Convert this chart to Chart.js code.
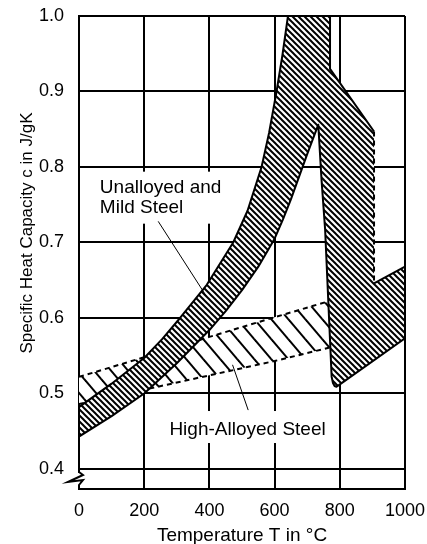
<!DOCTYPE html>
<html>
<head>
<meta charset="utf-8">
<script src="https://cdn.jsdelivr.net/npm/chart.js@4/dist/chart.umd.min.js"></script>
<style>
  html, body { margin: 0; padding: 0; background: #fff; }
  #c { display: block; }
</style>
</head>
<body>
<canvas id="c" width="427" height="544"></canvas>
<script>
// Axis ticks
const tempTicks = [0, 200, 400, 600, 800, 1000];          // temperature T in °C
const capTicks = [0.4, 0.5, 0.6, 0.7, 0.8, 0.9, 1.0];      // specific heat capacity c in J/gK

// Unalloyed and mild steel, upper edge of the scatter band
// (rises past 1.0, then the right-hand part after the peak, dashed drop at 905 °C)
const unalloyedUpperT = [0, 100, 200, 255, 310, 392, 473, 517, 560, 583, 606, 624, 641, 770, 770, 905, 905, 1000];
const unalloyedUpperC = [0.482, 0.513, 0.547, 0.572, 0.600, 0.644, 0.700, 0.742, 0.800, 0.845, 0.900, 0.948, 1.000, 1.000, 0.930, 0.847, 0.646, 0.668];

// Unalloyed and mild steel, lower edge (up to the peak, the sharp drop, then rising again)
const unalloyedLowerT = [0, 0, 100, 200, 300, 400, 450, 500, 550, 600, 625, 650, 700, 734, 744, 755, 775, 779, 784, 790, 797, 1000, 1000];
const unalloyedLowerC = [0.482, 0.443, 0.470, 0.500, 0.540, 0.584, 0.609, 0.637, 0.668, 0.705, 0.730, 0.757, 0.817, 0.856, 0.783, 0.717, 0.522, 0.514, 0.510, 0.509, 0.511, 0.573, 0.668];

// High-alloyed steel, upper and lower edges
const highAlloyUpperT = [0, 200, 400, 600, 780];
const highAlloyUpperC = [0.522, 0.548, 0.575, 0.601, 0.624];
const highAlloyLowerT = [0, 200, 400, 600, 780];
const highAlloyLowerC = [0.486, 0.505, 0.524, 0.543, 0.562];

const FONT = '"Liberation Sans", Arial, Helvetica, sans-serif';

// Diagonal hatching on a white ground, lines running top-left to bottom-right
function hatch(step, rise, width) {
  const tile = document.createElement('canvas');
  tile.width = step;
  tile.height = rise;
  const g = tile.getContext('2d');
  g.fillStyle = '#fff';
  g.fillRect(0, 0, step, rise);
  g.strokeStyle = '#000';
  g.lineWidth = width;
  g.lineCap = 'square';
  for (let k = -1; k <= 1; k++) {
    g.beginPath();
    g.moveTo(k * step, 0);
    g.lineTo(k * step + step, rise);
    g.stroke();
  }
  return g.createPattern(tile, 'repeat');
}

const ctx = document.getElementById('c').getContext('2d');
const denseHatch = hatch(6, 6, 2);
const sparseHatch = hatch(17, 20, 2);

const toPoints = (ts, cs, from = 0, to = ts.length) =>
  ts.slice(from, to).map((t, i) => ({ x: t, y: cs[from + i] }));

// index where the dashed drop at the right-hand end of the upper edge begins
const dropAt = unalloyedUpperT.indexOf(905);

// Labels, leader lines and the broken-axis mark, placed in data units
const steelNotes = {
  id: 'steelNotes',
  beforeDatasetsDraw(chart) {
    const { ctx, scales: { x, y }, chartArea } = chart;
    ctx.save();
    ctx.font = '19px ' + FONT;
    // white grounds behind the two labels
    ctx.fillStyle = '#fff';
    const ux = x.getPixelForValue(64), uy = y.getPixelForValue(0.766);
    const uw = Math.max(ctx.measureText('Unalloyed and').width, ctx.measureText('Mild Steel').width);
    ctx.fillRect(ux - 5, uy - 21, uw + 8, 52);
    const hw = ctx.measureText('High-Alloyed Steel').width;
    const hx = x.getPixelForValue(517) - hw / 2, hy = y.getPixelForValue(0.445);
    ctx.fillRect(hx - 5, hy - 24, hw + 10, 32);

    // break in the value axis
    const bx = chartArea.left;
    ctx.fillRect(bx - 3, chartArea.bottom - 16, 6, 12);
    ctx.strokeStyle = '#000';
    ctx.lineWidth = 2;
    ctx.lineJoin = 'miter';
    ctx.beginPath();
    ctx.moveTo(bx, chartArea.bottom - 17);
    ctx.lineTo(bx + 4, chartArea.bottom - 14);
    ctx.lineTo(bx - 11, chartArea.bottom - 7);
    ctx.lineTo(bx + 4, chartArea.bottom - 9);
    ctx.lineTo(bx, chartArea.bottom - 4);
    ctx.lineTo(bx, chartArea.bottom);
    ctx.stroke();
    ctx.restore();
  },
  afterDatasetsDraw(chart) {
    const { ctx, scales: { x, y } } = chart;
    ctx.save();
    ctx.fillStyle = '#000';
    ctx.strokeStyle = '#000';
    ctx.font = '19px ' + FONT;
    ctx.textBaseline = 'alphabetic';
    ctx.textAlign = 'left';
    const ux = x.getPixelForValue(64), uy = y.getPixelForValue(0.766);
    ctx.fillText('Unalloyed and', ux, uy);
    ctx.fillText('Mild Steel', ux, uy + 20.6);
    ctx.textAlign = 'center';
    ctx.fillText('High-Alloyed Steel', x.getPixelForValue(517), y.getPixelForValue(0.445));

    // leader lines
    ctx.lineWidth = 1;
    ctx.beginPath();
    ctx.moveTo(x.getPixelForValue(243), y.getPixelForValue(0.728));
    ctx.lineTo(x.getPixelForValue(392), y.getPixelForValue(0.628));
    ctx.moveTo(x.getPixelForValue(519), y.getPixelForValue(0.478));
    ctx.lineTo(x.getPixelForValue(471), y.getPixelForValue(0.538));
    ctx.stroke();

    // value-axis title
    ctx.font = '17px ' + FONT;
    ctx.textAlign = 'center';
    ctx.textBaseline = 'middle';
    ctx.translate(27, 233);
    ctx.rotate(-Math.PI / 2);
    ctx.fillText('Specific Heat Capacity c in J/gK', 0, 0);
    ctx.restore();
  }
};

const edge = {
  showLine: true,
  borderColor: '#000',
  borderWidth: 2,
  borderJoinStyle: 'round',
  pointRadius: 0,
  fill: false
};

new Chart(ctx, {
  type: 'scatter',
  data: {
    datasets: [
      // outlines of the unalloyed band: solid upper edge, dashed drop, solid end piece
      Object.assign({}, edge, {
        label: 'Unalloyed and Mild Steel',
        data: toPoints(unalloyedUpperT, unalloyedUpperC, 0, dropAt + 1)
      }),
      Object.assign({}, edge, {
        label: 'Unalloyed and Mild Steel (drop)',
        data: toPoints(unalloyedUpperT, unalloyedUpperC, dropAt, dropAt + 2),
        borderDash: [5, 4]
      }),
      Object.assign({}, edge, {
        label: 'Unalloyed and Mild Steel (end)',
        data: toPoints(unalloyedUpperT, unalloyedUpperC, dropAt + 1)
      }),
      // full upper edge, used only as the fill boundary
      Object.assign({}, edge, {
        label: 'Unalloyed and Mild Steel (upper)',
        data: toPoints(unalloyedUpperT, unalloyedUpperC),
        borderWidth: 0,
        borderColor: 'rgba(0,0,0,0)'
      }),
      Object.assign({}, edge, {
        label: 'Unalloyed and Mild Steel (lower)',
        data: toPoints(unalloyedLowerT, unalloyedLowerC),
        fill: '-1',
        backgroundColor: denseHatch
      }),
      Object.assign({}, edge, {
        label: 'High-Alloyed Steel',
        data: toPoints(highAlloyUpperT, highAlloyUpperC),
        borderDash: [5, 4]
      }),
      Object.assign({}, edge, {
        label: 'High-Alloyed Steel (lower)',
        data: toPoints(highAlloyLowerT, highAlloyLowerC),
        borderDash: [5, 4],
        fill: '-1',
        backgroundColor: sparseHatch
      })
    ]
  },
  options: {
    responsive: false,
    animation: false,
    devicePixelRatio: 1,
    layout: { padding: { top: 16, right: 22, left: 0, bottom: 0 } },
    plugins: {
      legend: { display: false },
      tooltip: { enabled: false },
      title: { display: false },
      filler: { drawTime: 'beforeDatasetDraw' }
    },
    scales: {
      x: {
        type: 'linear',
        min: 0,
        max: 1000,
        afterBuildTicks: s => { s.ticks = tempTicks.map(v => ({ value: v })); },
        afterFit: s => { s.height = 55; s.paddingLeft = 0; s.paddingRight = 0; },
        ticks: { color: '#000', font: { family: FONT, size: 18 }, padding: 11, maxRotation: 0, autoSkip: false, callback: v => String(v) },
        grid: { color: '#000', lineWidth: 2, drawTicks: false },
        border: { color: '#000', width: 2 },
        title: {
          display: true,
          text: 'Temperature T in °C',
          color: '#000',
          font: { family: FONT, size: 19 },
          padding: { top: 0, bottom: -3 }
        }
      },
      y: {
        type: 'linear',
        min: 0.3735,
        max: 1.0,
        afterBuildTicks: s => { s.ticks = capTicks.map(v => ({ value: v })); },
        afterFit: s => { s.width = 79; s.paddingTop = 0; s.paddingBottom = 0; },
        ticks: { color: '#000', font: { family: FONT, size: 18 }, padding: 15, callback: v => v.toFixed(1) },
        grid: { color: '#000', lineWidth: 2, drawTicks: false },
        border: { color: '#000', width: 2 }
      }
    }
  },
  plugins: [steelNotes]
});
</script>
</body>
</html>
